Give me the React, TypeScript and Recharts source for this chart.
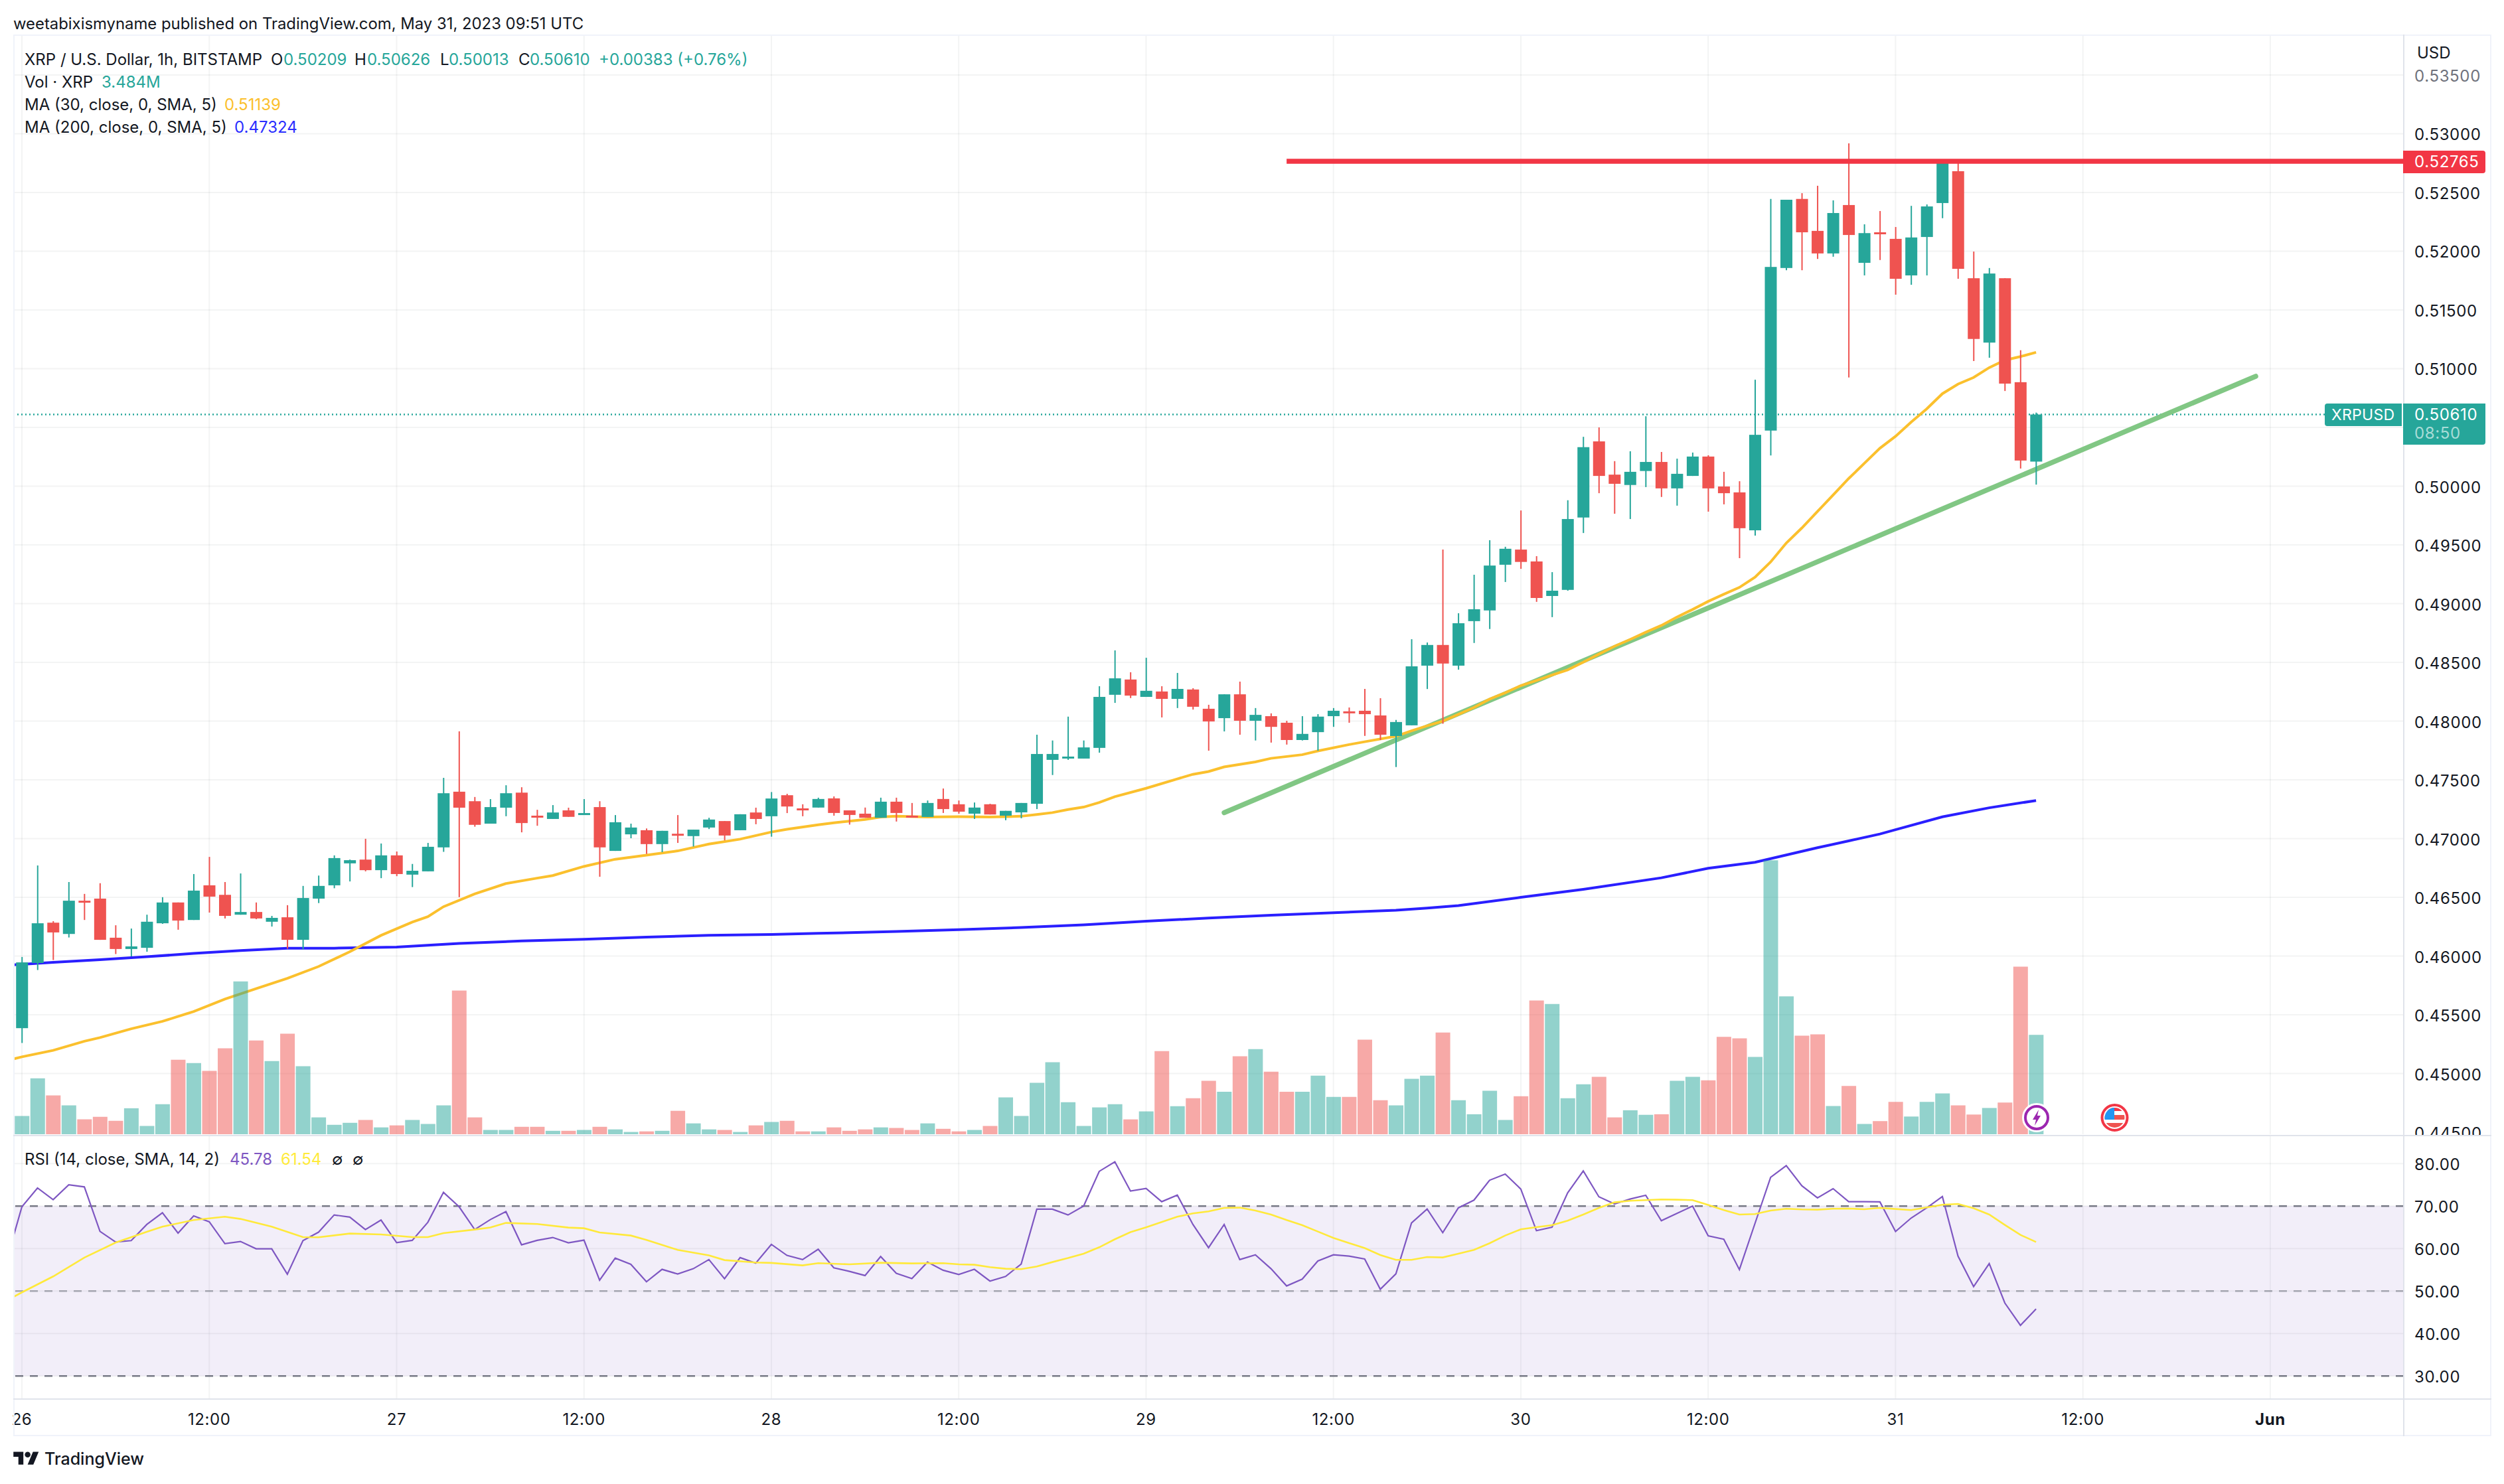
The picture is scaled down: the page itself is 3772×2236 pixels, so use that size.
import React from 'react';
import {
  ComposedChart, Bar, Line, Cell, XAxis, YAxis, CartesianGrid, ReferenceLine, ReferenceArea,
} from 'recharts';

const FONT = 'Inter, "Noto Sans", sans-serif';
const GREEN = '#26a69a';
const RED = '#ef5350';
const GRID = 'rgba(42,46,57,0.055)';

// hours counted from May 26 00:00, one candle an hour
const opens = [
  0.45386, 0.45941, 0.46284, 0.46188, 0.46471, 0.46489, 0.46156, 0.4606, 0.4607, 0.46279,
  0.46456, 0.46307, 0.46602, 0.46521, 0.46352, 0.46375, 0.46292, 0.4633, 0.46138, 0.46489,
  0.46602, 0.46789, 0.46821, 0.46731, 0.46857, 0.46693, 0.46721, 0.46925, 0.47399, 0.47318,
  0.47127, 0.47263, 0.47391, 0.47195, 0.47167, 0.4724, 0.47207, 0.47268, 0.46895, 0.47036,
  0.47071, 0.46953, 0.47041, 0.47021, 0.47094, 0.47149, 0.47071, 0.47222, 0.4719, 0.47369,
  0.47257, 0.47264, 0.47342, 0.4724, 0.47212, 0.47177, 0.47314, 0.47195, 0.47184, 0.47337,
  0.47292, 0.47212, 0.47292, 0.47195, 0.47223, 0.47296, 0.4767, 0.47681, 0.47681, 0.47772,
  0.48224, 0.48354, 0.48206, 0.48252, 0.48189, 0.48269, 0.48105, 0.48025, 0.48228, 0.48003,
  0.48042, 0.47986, 0.47839, 0.47906, 0.48042, 0.48083, 0.48088, 0.48048, 0.47873, 0.47964,
  0.48472, 0.48648, 0.48472, 0.48851, 0.48942, 0.49331, 0.4946, 0.49359, 0.49065, 0.49117,
  0.49733, 0.50381, 0.50098, 0.5001, 0.50129, 0.50206, 0.49981, 0.50087, 0.50252, 0.49997,
  0.49947, 0.49624, 0.50473, 0.51857, 0.52445, 0.52173, 0.51981, 0.52393, 0.51901, 0.52161,
  0.52105, 0.51794, 0.52121, 0.5241, 0.52681, 0.5177, 0.51222, 0.5177, 0.50885, 0.50209,
];
const highs = [
  0.45992, 0.46771, 0.46297, 0.4663, 0.46529, 0.4662, 0.46262, 0.46234, 0.46352, 0.46501,
  0.46456, 0.46698, 0.46844, 0.4663, 0.46703, 0.46456, 0.46342, 0.46433, 0.46597, 0.46685,
  0.46857, 0.46821, 0.46998, 0.46958, 0.4689, 0.46784, 0.46963, 0.47517, 0.47913, 0.47354,
  0.47336, 0.47454, 0.47437, 0.47245, 0.47285, 0.47263, 0.47336, 0.47318, 0.472, 0.47127,
  0.47086, 0.47066, 0.472, 0.47076, 0.47177, 0.47149, 0.47207, 0.47263, 0.47396, 0.47381,
  0.47292, 0.47348, 0.47359, 0.4724, 0.47264, 0.47348, 0.47348, 0.47303, 0.47324, 0.47426,
  0.47324, 0.47307, 0.47296, 0.47236, 0.47303, 0.47884, 0.47835, 0.48038, 0.47835, 0.48297,
  0.48602, 0.48416, 0.48539, 0.48297, 0.4841, 0.4828, 0.48139, 0.48228, 0.48336, 0.48111,
  0.48066, 0.48003, 0.48042, 0.48059, 0.48111, 0.48116, 0.48274, 0.48195, 0.4801, 0.48697,
  0.48669, 0.4946, 0.48918, 0.49246, 0.4954, 0.49484, 0.49793, 0.49404, 0.49268, 0.4988,
  0.5042, 0.505, 0.50213, 0.50297, 0.50595, 0.50291, 0.50234, 0.50286, 0.50263, 0.50122,
  0.50042, 0.50906, 0.52445, 0.52438, 0.52494, 0.52557, 0.52433, 0.52918, 0.52229, 0.52342,
  0.52206, 0.52386, 0.52398, 0.5277, 0.5277, 0.51997, 0.51857, 0.5177, 0.51157, 0.50626,
];
const lows = [
  0.4526, 0.45881, 0.45966, 0.46158, 0.46307, 0.46138, 0.46017, 0.45997, 0.46037, 0.46274,
  0.46224, 0.46307, 0.4637, 0.4632, 0.46352, 0.46314, 0.46251, 0.46062, 0.46057, 0.46451,
  0.46577, 0.46635, 0.46721, 0.46663, 0.4668, 0.46587, 0.46721, 0.46887, 0.46501, 0.47101,
  0.47127, 0.4719, 0.47053, 0.47109, 0.47167, 0.47185, 0.47207, 0.46675, 0.46895, 0.47003,
  0.46869, 0.46884, 0.46963, 0.46932, 0.47081, 0.46985, 0.47071, 0.47122, 0.47016, 0.47217,
  0.4719, 0.47264, 0.47195, 0.47119, 0.47177, 0.47177, 0.47145, 0.4718, 0.47184, 0.47218,
  0.47212, 0.47167, 0.47205, 0.47156, 0.47173, 0.47251, 0.47541, 0.4767, 0.47681, 0.47731,
  0.48155, 0.48196, 0.48206, 0.48031, 0.48111, 0.48098, 0.47748, 0.47912, 0.47884, 0.47835,
  0.47817, 0.478, 0.47835, 0.47748, 0.47951, 0.47986, 0.47874, 0.47839, 0.47609, 0.47964,
  0.48273, 0.47977, 0.48438, 0.48665, 0.48784, 0.49184, 0.49296, 0.49015, 0.48885, 0.4911,
  0.49601, 0.4994, 0.49765, 0.4972, 0.49992, 0.49908, 0.49834, 0.50087, 0.49783, 0.49845,
  0.49387, 0.49579, 0.50262, 0.51838, 0.51838, 0.51934, 0.51953, 0.50925, 0.51794, 0.51925,
  0.5163, 0.51714, 0.51794, 0.52281, 0.51765, 0.51065, 0.51093, 0.5081, 0.5015, 0.50013,
];
const closes = [
  0.45946, 0.46279, 0.46201, 0.46471, 0.46456, 0.46138, 0.4606, 0.46082, 0.46292, 0.46456,
  0.46302, 0.46557, 0.46506, 0.46342, 0.46375, 0.4632, 0.46325, 0.46138, 0.46494, 0.46597,
  0.46834, 0.46816, 0.46731, 0.46857, 0.46698, 0.46726, 0.4693, 0.47386, 0.47263, 0.47117,
  0.47268, 0.47386, 0.47132, 0.4718, 0.47222, 0.47185, 0.47217, 0.46925, 0.47139, 0.47094,
  0.46953, 0.47066, 0.47028, 0.47076, 0.47162, 0.47026, 0.47207, 0.47167, 0.47341, 0.47273,
  0.4724, 0.47337, 0.47218, 0.47201, 0.47177, 0.47314, 0.47218, 0.4718, 0.47303, 0.47251,
  0.47229, 0.47264, 0.47205, 0.47236, 0.47303, 0.4772, 0.4772, 0.47698, 0.47776, 0.48206,
  0.48364, 0.48217, 0.48258, 0.48189, 0.48274, 0.48122, 0.47997, 0.48228, 0.48003, 0.48053,
  0.47951, 0.47839, 0.47891, 0.48038, 0.48088, 0.48075, 0.48059, 0.47884, 0.47992, 0.48466,
  0.48648, 0.4849, 0.48833, 0.48952, 0.49324, 0.49467, 0.49355, 0.49048, 0.4911, 0.4972,
  0.50332, 0.50087, 0.5002, 0.50122, 0.50206, 0.49981, 0.50105, 0.50252, 0.49981, 0.4994,
  0.49642, 0.50437, 0.51866, 0.52438, 0.52161, 0.51981, 0.52325, 0.52138, 0.52154, 0.52145,
  0.51765, 0.52117, 0.52381, 0.52754, 0.5185, 0.51253, 0.5181, 0.50873, 0.50218, 0.5061,
];
// millions of XRP
const volumes = [
  0.64, 1.96, 1.36, 1.01, 0.52, 0.61, 0.47, 0.91, 0.29, 1.05,
  2.61, 2.49, 2.22, 3.01, 5.35, 3.28, 2.56, 3.52, 2.38, 0.59,
  0.33, 0.4, 0.5, 0.24, 0.31, 0.5, 0.36, 1.01, 5.03, 0.59,
  0.15, 0.15, 0.26, 0.26, 0.12, 0.12, 0.15, 0.26, 0.17, 0.08,
  0.1, 0.12, 0.82, 0.38, 0.17, 0.15, 0.08, 0.31, 0.43, 0.47,
  0.1, 0.1, 0.24, 0.12, 0.17, 0.24, 0.22, 0.15, 0.38, 0.19,
  0.1, 0.15, 0.29, 1.29, 0.64, 1.8, 2.52, 1.12, 0.29, 0.94,
  1.05, 0.52, 0.8, 2.91, 0.98, 1.26, 1.87, 1.49, 2.73, 2.98,
  2.19, 1.49, 1.49, 2.05, 1.31, 1.31, 3.31, 1.19, 1.01, 1.94,
  2.05, 3.56, 1.19, 0.7, 1.52, 0.5, 1.33, 4.68, 4.56, 1.26,
  1.75, 2.01, 0.59, 0.84, 0.68, 0.7, 1.87, 2.01, 1.89, 3.41,
  3.36, 2.71, 9.59, 4.83, 3.45, 3.5, 0.99, 1.69, 0.36, 0.46,
  1.13, 0.62, 1.13, 1.43, 1.01, 0.69, 0.92, 1.11, 5.87, 3.48,
];
// first value belongs to the hour before May 26, mostly clipped by the pane
const rsiValues = [
  57, 69.84, 74.27, 71.51, 75, 74.53, 64.06, 61.56, 61.88, 65.68, 68.44,
  63.65, 67.71, 66.3, 61.15, 61.67, 59.95, 59.95, 53.96, 61.88, 63.86,
  67.92, 67.4, 64.48, 66.72, 61.41, 61.93, 66.2, 73.23, 69.84, 64.48,
  66.82, 68.7, 60.89, 61.93, 62.61, 61.36, 61.98, 52.55, 57.76, 56.3,
  52.19, 55.11, 54.01, 55.26, 57.4, 52.92, 57.87, 56.56, 60.99, 58.39,
  57.4, 59.84, 55.47, 54.64, 53.65, 58.13, 54.17, 52.92, 56.82, 54.9,
  53.91, 55.11, 52.35, 53.44, 56.36, 69.27, 69.27, 67.92, 70, 78.18,
  80.42, 73.54, 74.17, 71.04, 72.6, 65.68, 60.21, 65.68, 57.4, 58.54,
  55.26, 51.2, 52.81, 57.08, 58.54, 58.23, 57.55, 50.42, 54.06, 66.04,
  69.32, 63.75, 69.58, 71.41, 76.09, 77.55, 74.01, 64.22, 65.05, 73.13,
  78.28, 72.19, 70.52, 71.67, 72.55, 66.56, 68.28, 70, 63.02, 62.19,
  55.05, 65.94, 76.77, 79.53, 74.79, 71.93, 74.11, 71.04, 71.04, 71,
  64.01, 67.19, 69.58, 72.24, 58.23, 51.04, 56.46, 47.19, 41.93, 45.78,
];
// [hour, value] readings, the line joins them
const ma30Readings = [
  [-1, 0.45109], [0, 0.45142], [2, 0.45197], [4, 0.45275], [5, 0.45306], [7, 0.45381], [9, 0.45444], [11, 0.45528],
  [13, 0.45634], [15, 0.45722], [17, 0.4581], [19, 0.45911], [21, 0.46037], [23, 0.46176], [25, 0.46289], [26, 0.46335],
  [27, 0.4642], [29, 0.46529], [31, 0.46617], [33, 0.46663], [34, 0.46685], [36, 0.46763], [38, 0.46824], [40, 0.46859],
  [42, 0.46895], [44, 0.46953], [46, 0.46995], [48, 0.47056], [49, 0.47079], [51, 0.47117], [52, 0.47134], [54, 0.47162],
  [55, 0.47184], [56, 0.4719], [58, 0.47184], [60, 0.47186], [62, 0.47184], [64, 0.4719], [65, 0.47205], [66, 0.47221],
  [67, 0.47247], [68, 0.47268], [69, 0.47307], [70, 0.47357], [72, 0.47428], [74, 0.47508], [75, 0.47547], [76, 0.47571],
  [77, 0.4761], [79, 0.47653], [80, 0.47683], [82, 0.47714], [83, 0.47746], [85, 0.478], [86, 0.47824], [88, 0.47871],
  [89, 0.47917], [90, 0.4796], [91, 0.47999], [92, 0.48057], [93, 0.48116], [94, 0.48187], [95, 0.48241], [96, 0.48302],
  [97, 0.48345], [98, 0.48392], [99, 0.48436], [100, 0.48501], [101, 0.4857], [102, 0.48637], [103, 0.48695], [104, 0.48756],
  [105, 0.48814], [106, 0.48885], [107, 0.4895], [108, 0.49019], [109, 0.4908], [110, 0.49138], [111, 0.49225], [112, 0.49355],
  [113, 0.49515], [114, 0.49644], [115, 0.49784], [116, 0.49925], [117, 0.50065], [118, 0.50194], [119, 0.50323], [120, 0.50424],
  [121, 0.50545], [122, 0.50658], [123, 0.50787], [124, 0.50869], [125, 0.50925], [126, 0.51009], [127, 0.51072], [128, 0.51103],
  [129, 0.51139],
];
const ma200Readings = [
  [-1, 0.45921], [0, 0.45929], [2, 0.45946], [5, 0.45969], [8, 0.45994], [11, 0.46022], [14, 0.46047], [17, 0.46067],
  [20, 0.46067], [24, 0.46077], [28, 0.46108], [32, 0.46128], [36, 0.46143], [40, 0.46161], [44, 0.46176], [48, 0.46183],
  [51, 0.46193], [56, 0.46209], [60, 0.46224], [64, 0.46243], [68, 0.46265], [72, 0.46297], [76, 0.46323], [80, 0.46347],
  [84, 0.46369], [88, 0.4639], [90, 0.46408], [92, 0.46429], [96, 0.465], [100, 0.46568], [105, 0.46666], [108, 0.46747],
  [111, 0.46798], [113, 0.4686], [115, 0.46922], [117, 0.4698], [119, 0.47039], [120, 0.47076], [123, 0.47185], [126, 0.47262],
  [129, 0.47324],
];
const rsiMaReadings = [
  [-1, 47.71], [0, 49.69], [2, 53.44], [4, 57.87], [6, 61.41], [8, 63.96], [9, 65.16], [11, 66.72], [13, 67.5], [14, 66.98],
  [16, 65.16], [18, 62.71], [19, 62.66], [21, 63.54], [23, 63.33], [25, 62.71], [26, 62.71], [27, 63.65], [29, 64.48], [30, 64.95],
  [31, 66.04], [33, 65.78], [35, 64.95], [36, 64.79], [37, 63.8], [39, 63.07], [40, 62.03], [42, 59.69], [44, 58.39], [45, 57.29],
  [47, 56.72], [48, 56.62], [50, 56.04], [51, 56.56], [53, 56.3], [55, 56.67], [57, 56.51], [59, 56.56], [60, 56.3], [61, 56.2],
  [62, 55.63], [63, 55.26], [64, 55.16], [65, 55.78], [66, 56.82], [67, 57.76], [68, 58.8], [69, 60.31], [70, 62.19], [71, 63.86],
  [72, 65], [73, 66.25], [74, 67.5], [75, 68.28], [76, 68.75], [77, 69.58], [78, 69.64], [79, 68.96], [80, 68.02], [81, 66.72],
  [82, 65.52], [83, 64.01], [84, 62.5], [85, 61.3], [86, 60.11], [87, 58.49], [88, 57.35], [89, 57.35], [90, 58.02], [91, 57.92],
  [92, 58.8], [93, 59.69], [94, 61.25], [95, 63.07], [96, 64.53], [97, 65.05], [98, 65.52], [99, 66.56], [100, 68.02], [101, 69.58],
  [102, 70.89], [103, 71.25], [104, 71.41], [105, 71.56], [106, 71.51], [107, 71.41], [108, 70.26], [109, 69.06], [110, 68.02], [111, 68.13],
  [112, 68.96], [113, 69.38], [114, 69.22], [115, 69.17], [116, 69.38], [117, 69.43], [118, 69.27], [119, 69.58], [120, 69.32], [121, 69.06],
  [122, 69.69], [123, 70.31], [124, 70.52], [125, 69.48], [126, 68.02], [127, 65.57], [128, 63.23], [129, 61.54],
];
const priceTicks = [
  0.445, 0.45, 0.455, 0.46, 0.465, 0.47, 0.475, 0.48, 0.485, 0.49,
  0.495, 0.5, 0.505, 0.51, 0.515, 0.52, 0.525, 0.53, 0.535,
];
const rsiTicks = [30, 40, 50, 60, 70, 80];
const timeHours = [0, 12, 24, 36, 48, 60, 72, 84, 96, 108, 120, 132, 144];
const timeLabels = ['26', '12:00', '27', '12:00', '28', '12:00', '29', '12:00', '30', '12:00', '31', '12:00', 'Jun'];

const LAST_PRICE = 0.5061;
const RESISTANCE = 0.52765;
const trendStart = { x: 77, y: 0.4722 };
const trendEnd = { x: 143.07, y: 0.50935 };

const HOUR_DOMAIN = [-0.5527, 152.55];
const PRICE_DOMAIN = [0.444831, 0.538333];
const VOLUME_DOMAIN = [0, 38.46];
const RSI_DOMAIN = [24.73, 86.45];
const PANE_MARGIN = { top: 54, right: 151, bottom: 1, left: 20 };

const candleRows = opens.map((open, i) => ({
  hour: i, open, high: highs[i], low: lows[i], close: closes[i], range: [lows[i], highs[i]], volume: volumes[i],
}));

function readingsAt(readings: number[][], hour: number) {
  const hit = readings.find((r) => r[0] === hour);
  return hit ? hit[1] : null;
}

const lineRows = rsiValues.map((rsi, i) => ({
  hour: i - 1,
  rsi,
  rsiMa: readingsAt(rsiMaReadings, i - 1),
  ma30: readingsAt(ma30Readings, i - 1),
  ma200: readingsAt(ma200Readings, i - 1),
}));

function Candle(props: any) {
  const { x, y, width, height, payload } = props;
  const { open, high, low, close } = payload;
  const color = close >= open ? GREEN : RED;
  const perPrice = height / (high - low);
  const bodyTop = y + (high - Math.max(open, close)) * perPrice;
  const bodyHeight = Math.max(Math.abs(open - close) * perPrice, 3);
  const cx = x + width / 2;
  return (
    <g>
      <line x1={cx} x2={cx} y1={y} y2={y + height} stroke={color} strokeWidth={2} />
      <rect x={x} y={bodyTop} width={width} height={bodyHeight} fill={color} />
    </g>
  );
}

function PriceTick(props: any) {
  const { x, y, payload } = props;
  return (
    <text x={x} y={y} dy={10} fontFamily={FONT} fontSize={24} letterSpacing={0.65}
      fill={payload.value === 0.535 ? '#6f727c' : '#131722'}>
      {payload.value.toFixed(5)}
    </text>
  );
}

function RsiTick(props: any) {
  const { x, y, payload } = props;
  return (
    <text x={x} y={y} dy={10} fontFamily={FONT} fontSize={24} letterSpacing={0.65} fill="#131722">
      {payload.value.toFixed(2)}
    </text>
  );
}

function TimeTick(props: any) {
  const { x, y, payload } = props;
  const label = timeLabels[timeHours.indexOf(payload.value)];
  return (
    <text x={x} y={y} dy={11} textAnchor="middle" fontFamily={FONT} fontSize={24} letterSpacing={0.6}
      fontWeight={label === 'Jun' ? 700 : 400} fill="#131722">
      {label}
    </text>
  );
}

function PriceLayer({ data, children }: any) {
  return (
    <div style={{ position: 'absolute', left: 0, top: 0 }}>
      <ComposedChart width={3772} height={1710} data={data} margin={PANE_MARGIN}>
        {children}
      </ComposedChart>
    </div>
  );
}

const hourAxis = (
  <XAxis dataKey="hour" type="number" domain={HOUR_DOMAIN} ticks={timeHours} allowDataOverflow hide />
);
const priceAxis = <YAxis type="number" domain={PRICE_DOMAIN} ticks={priceTicks} allowDataOverflow hide />;

function Txt({ x, y, size = 24, color = '#131722', weight = 400, spacing = 0, children }: any) {
  return (
    <div style={{
      position: 'absolute', left: x, top: y, transform: 'translateY(-50%)', fontFamily: FONT, fontSize: size,
      color, fontWeight: weight, letterSpacing: spacing, whiteSpace: 'nowrap', lineHeight: 1,
    }}>
      {children}
    </div>
  );
}

function Box({ x, y, w, h, color, radius }: any) {
  return <div style={{ position: 'absolute', left: x, top: y, width: w, height: h, background: color, borderRadius: radius }} />;
}

function Markers() {
  return (
    <svg width={3772} height={1710} style={{ position: 'absolute', left: 0, top: 0 }}>
      <circle cx={3068} cy={1684} r={20} fill="#ffffff" stroke="#ffffff" strokeWidth={4} />
      <circle cx={3068} cy={1684} r={17} fill="#ffffff" stroke="#9c27b0" strokeWidth={4} />
      <path d="M3071 1672 L3062 1687 L3067 1687 L3065 1696 L3074 1681 L3069 1681 Z" fill="#9c27b0" />
      <circle cx={3185.5} cy={1684} r={19} fill="#ffffff" stroke="#f23645" strokeWidth={4} />
      <clipPath id="flag"><circle cx={3185.5} cy={1684} r={15} /></clipPath>
      <g clipPath="url(#flag)">
        <rect x={3170} y={1668} width={32} height={32} fill="#ffffff" />
        <rect x={3170} y={1668} width={32} height={6} fill="#f23645" />
        <rect x={3170} y={1680} width={32} height={7} fill="#ef5350" />
        <rect x={3170} y={1692} width={32} height={9} fill="#ef5350" />
        <rect x={3170} y={1668} width={15} height={19} fill="#2196f3" />
      </g>
    </svg>
  );
}

export default function App() {
  return (
    <div style={{ position: 'absolute', left: 0, top: 0, width: 3772, height: 2236, background: '#ffffff', overflow: 'hidden' }}>
      <PriceLayer data={lineRows}>
        <CartesianGrid stroke={GRID} strokeWidth={2} horizontalValues={priceTicks} verticalValues={timeHours} />
        {hourAxis}
        {priceAxis}
        <ReferenceLine y={LAST_PRICE} stroke={GREEN} strokeWidth={2.5} strokeDasharray="2 4" />
        <ReferenceLine segment={[trendStart, trendEnd]} stroke="#81c784" strokeWidth={7.5} strokeLinecap="round" />
      </PriceLayer>
      <PriceLayer data={lineRows}>
        {hourAxis}
        {priceAxis}
        <Line dataKey="ma200" stroke="#2a1fff" strokeWidth={4} dot={false} connectNulls isAnimationActive={false} />
        <Line dataKey="ma30" stroke="#fbc02d" strokeWidth={4} dot={false} connectNulls isAnimationActive={false} />
      </PriceLayer>
      <PriceLayer data={candleRows}>
        {hourAxis}
        <YAxis type="number" domain={VOLUME_DOMAIN} allowDataOverflow hide />
        <Bar dataKey="volume" barSize={22} fillOpacity={0.5} isAnimationActive={false}>
          {candleRows.map((row) => (
            <Cell key={row.hour} fill={row.close >= row.open ? GREEN : RED} />
          ))}
        </Bar>
      </PriceLayer>
      <PriceLayer data={candleRows}>
        {hourAxis}
        {priceAxis}
        <Bar dataKey="range" barSize={18} shape={Candle} isAnimationActive={false} />
      </PriceLayer>
      <div style={{ position: 'absolute', left: 0, top: 0 }}>
        <ComposedChart width={3772} height={1710} data={candleRows} margin={{ ...PANE_MARGIN, right: 20 }}>
          {hourAxis}
          <YAxis type="number" orientation="right" width={131} domain={PRICE_DOMAIN} ticks={priceTicks} interval={0}
            allowDataOverflow axisLine={false} tickLine={false} tickSize={0} tickMargin={16} tick={PriceTick} />
          <ReferenceLine segment={[{ x: 81, y: RESISTANCE }, { x: HOUR_DOMAIN[1], y: RESISTANCE }]} stroke="#f23645" strokeWidth={7.5} />
        </ComposedChart>
      </div>
      <div style={{ position: 'absolute', left: 0, top: 1712 }}>
        <ComposedChart width={3772} height={453} data={lineRows} margin={{ top: 0, right: 20, bottom: 0, left: 20 }}>
          <CartesianGrid stroke={GRID} strokeWidth={2} horizontalValues={rsiTicks} verticalValues={timeHours} />
          <XAxis dataKey="hour" type="number" domain={HOUR_DOMAIN} ticks={timeHours} interval={0} height={58} allowDataOverflow
            axisLine={false} tickLine={false} tickSize={0} tickMargin={29} tick={TimeTick} />
          <YAxis type="number" orientation="right" width={131} domain={RSI_DOMAIN} ticks={rsiTicks} interval={0} allowDataOverflow
            axisLine={false} tickLine={false} tickSize={0} tickMargin={16} tick={RsiTick} />
          <ReferenceArea y1={30} y2={70} fill="#7e57c2" fillOpacity={0.1} stroke="none" />
          <ReferenceLine y={70} stroke="#787b86" strokeWidth={2.5} strokeDasharray="12 10" />
          <ReferenceLine y={50} stroke="#787b86" strokeOpacity={0.6} strokeWidth={2.5} strokeDasharray="12 10" />
          <ReferenceLine y={30} stroke="#787b86" strokeWidth={2.5} strokeDasharray="12 10" />
          <Line dataKey="rsi" stroke="#7e57c2" strokeWidth={2.2} dot={false} isAnimationActive={false} />
          <Line dataKey="rsiMa" stroke="#ffe93b" strokeWidth={2.6} dot={false} connectNulls isAnimationActive={false} />
        </ComposedChart>
      </div>

      <Markers />

      {/* frame */}
      <Box x={20} y={52} w={3732} h={2} color="#f0f3fa" />
      <Box x={20} y={52} w={2} h={2112} color="#f0f3fa" />
      <Box x={3751} y={52} w={2} h={2112} color="#f0f3fa" />
      <Box x={20} y={2162} w={3733} h={2} color="#f0f3fa" />
      <Box x={3620} y={52} w={2} h={2112} color="#e0e3eb" />
      <Box x={20} y={1710} w={3733} h={2} color="#e0e3eb" />
      <Box x={20} y={2107} w={3733} h={2} color="#e0e3eb" />

      {/* price tags */}
      <Box x={3620} y={227} w={124} h={34} color="#f23645" radius="0 4px 4px 0" />
      <Txt x={3637} y={244} size={24} color="#ffffff" spacing={0.65}>0.52765</Txt>
      <Box x={3502} y={608} w={116} h={34} color={GREEN} radius="4px 0 0 4px" />
      <Txt x={3512} y={625} size={23} color="#ffffff" spacing={0.3}>XRPUSD</Txt>
      <Box x={3620} y={608} w={124} h={62} color={GREEN} radius="0 0 4px 0" />
      <Txt x={3637} y={625} size={24} color="#ffffff" spacing={0.65}>0.50610</Txt>
      <Txt x={3637} y={653} size={24} color="#a8dcd7" spacing={0.65}>08:50</Txt>
      <Txt x={3641} y={80} size={24}>USD</Txt>

      {/* title and legends */}
      <Txt x={20} y={36} size={23.87}>weetabixismyname published on TradingView.com, May 31, 2023 09:51 UTC</Txt>
      <Txt x={37} y={90}>XRP / U.S. Dollar, 1h, BITSTAMP</Txt>
      <Txt x={408} y={90}>O</Txt>
      <Txt x={427} y={90} color={GREEN}>0.50209</Txt>
      <Txt x={534} y={90}>H</Txt>
      <Txt x={553} y={90} color={GREEN}>0.50626</Txt>
      <Txt x={663} y={90}>L</Txt>
      <Txt x={676} y={90} color={GREEN}>0.50013</Txt>
      <Txt x={781} y={90}>C</Txt>
      <Txt x={798} y={90} color={GREEN}>0.50610</Txt>
      <Txt x={902} y={90} color={GREEN}>+0.00383 (+0.76%)</Txt>
      <Txt x={37} y={124}>Vol · XRP</Txt>
      <Txt x={153} y={124} color={GREEN}>3.484M</Txt>
      <Txt x={37} y={158}>MA (30, close, 0, SMA, 5)</Txt>
      <Txt x={338} y={158} color="#fbc02d">0.51139</Txt>
      <Txt x={37} y={192}>MA (200, close, 0, SMA, 5)</Txt>
      <Txt x={353} y={192} color="#2a2eff">0.47324</Txt>
      <Txt x={37} y={1747}>RSI (14, close, SMA, 14, 2)</Txt>
      <Txt x={346} y={1747} color="#7e57c2">45.78</Txt>
      <Txt x={423} y={1747} color="#ffeb3b">61.54</Txt>
      <Txt x={500} y={1747}>∅</Txt>
      <Txt x={531} y={1747}>∅</Txt>

      {/* logo */}
      <svg width={39} height={30} viewBox="0 0 36 28" style={{ position: 'absolute', left: 20, top: 2180 }}>
        <path d="M14 25H7V14H0V7h14v18zM28 25h-8l7.5-18h8L28 25z" fill="#131722" />
        <circle cx={20} cy={11} r={4} fill="#131722" />
      </svg>
      <Txt x={67} y={2198} size={25} weight={500}>TradingView</Txt>
    </div>
  );
}
